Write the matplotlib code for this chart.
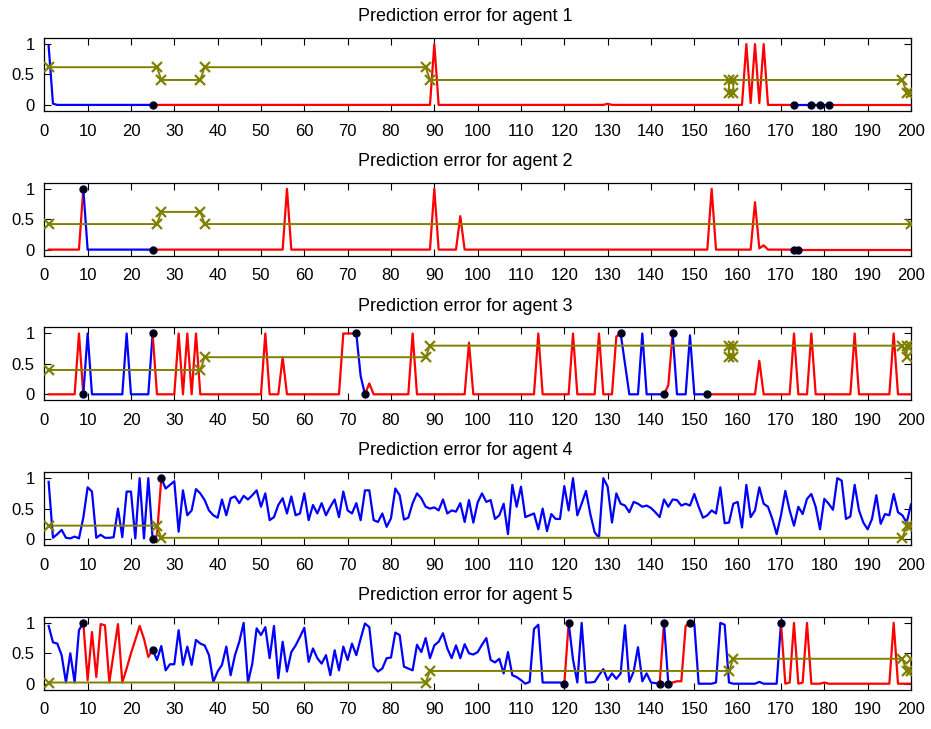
import matplotlib
matplotlib.use("Agg")
from matplotlib import pyplot as plt

plt.rcParams['font.family'] = ['Liberation Sans', 'DejaVu Sans']

t = list(range(1, 201))

# prediction error per agent, t = 1..200
err1 = [0.97, 0.02, 0, 0, 0, 0, 0, 0, 0, 0, 0, 0, 0, 0, 0, 0, 0, 0, 0, 0,
        0, 0, 0, 0, 0, 0, 0, 0, 0, 0, 0, 0, 0, 0, 0, 0, 0, 0, 0, 0,
        0, 0, 0, 0, 0, 0, 0, 0, 0, 0, 0, 0, 0, 0, 0, 0, 0, 0, 0, 0,
        0, 0, 0, 0, 0, 0, 0, 0, 0, 0, 0, 0, 0, 0, 0, 0, 0, 0, 0, 0,
        0, 0, 0, 0, 0, 0, 0, 0, 0, 1, 0, 0, 0, 0, 0, 0, 0, 0, 0, 0,
        0, 0, 0, 0, 0, 0, 0, 0, 0, 0, 0, 0, 0, 0, 0, 0, 0, 0, 0, 0,
        0, 0, 0, 0, 0, 0, 0, 0, 0, 0.02, 0, 0, 0, 0, 0, 0, 0, 0, 0, 0,
        0, 0, 0, 0, 0, 0, 0, 0, 0, 0, 0, 0, 0, 0, 0, 0, 0, 0, 0, 0,
        0, 1, 0.03, 1, 0.03, 1, 0, 0, 0, 0, 0, 0, 0, 0, 0, 0, 0, 0, 0, 0,
        0, 0, 0, 0, 0, 0, 0, 0, 0, 0, 0, 0, 0, 0, 0, 0, 0, 0, 0, 0]

err2 = [0, 0, 0, 0, 0, 0, 0, 0, 1, 0, 0, 0, 0, 0, 0, 0, 0, 0, 0, 0,
        0, 0, 0, 0, 0, 0, 0, 0, 0, 0, 0, 0, 0, 0, 0, 0, 0, 0, 0, 0,
        0, 0, 0, 0, 0, 0, 0, 0, 0, 0, 0, 0, 0, 0, 0, 1, 0, 0, 0, 0,
        0, 0, 0, 0, 0, 0, 0, 0, 0, 0, 0, 0, 0, 0, 0, 0, 0, 0, 0, 0,
        0, 0, 0, 0, 0, 0, 0, 0, 0, 1, 0, 0, 0, 0, 0, 0.55, 0, 0, 0, 0,
        0, 0, 0, 0, 0, 0, 0, 0, 0, 0, 0, 0, 0, 0, 0, 0, 0, 0, 0, 0,
        0, 0, 0, 0, 0, 0, 0, 0, 0, 0, 0, 0, 0, 0, 0, 0, 0, 0, 0, 0,
        0, 0, 0, 0, 0, 0, 0, 0, 0, 0, 0, 0, 0, 1, 0, 0, 0, 0, 0, 0,
        0, 0, 0, 0.78, 0.02, 0.07, 0, 0, 0, 0, 0, 0, 0, 0, 0, 0, 0, 0, 0, 0,
        0, 0, 0, 0, 0, 0, 0, 0, 0, 0, 0, 0, 0, 0, 0, 0, 0, 0, 0, 0]

err3 = [0, 0, 0, 0, 0, 0, 0, 1, 0, 1, 0, 0, 0, 0, 0, 0, 0, 0, 1, 0,
        0, 0, 0, 0, 1, 0, 0, 0, 0, 0, 1, 0, 1, 0, 1, 0, 0, 0, 0, 0,
        0, 0, 0, 0, 0, 0, 0, 0, 0, 0, 1, 0, 0, 0, 0.61, 0, 0, 0, 0, 0,
        0, 0, 0, 0, 0, 0, 0, 0, 1, 1, 1, 1, 0.3, 0, 0.18, 0, 0, 0, 0, 0,
        0, 0, 0, 0, 1, 0, 0, 0, 0, 0, 0, 0, 0, 0, 0, 0, 0, 0.85, 0, 0,
        0, 0, 0, 0, 0, 0, 0, 0, 0, 0, 0, 0, 0, 1, 0, 0, 0, 0, 0, 0,
        0, 1, 0, 0, 0, 0, 0, 1, 0, 0, 0, 0.95, 1, 0.5, 0, 0, 0, 1, 0, 0,
        0, 0, 0, 0.15, 1, 0, 0, 0, 0.97, 0, 0, 0, 0, 0, 0, 0, 0, 0, 0, 0,
        0, 0, 0, 0, 0.55, 0, 0, 0, 0, 0, 0, 0, 1, 0, 0, 0, 1, 0, 0, 0,
        0, 0, 0, 0, 0, 0, 1, 0, 0, 0, 0, 0, 0, 0, 0, 1, 0, 0, 0, 0]

err4 = [0.94, 0.02, 0.08, 0.15, 0.02, 0.01, 0.04, 0.01, 0.35, 0.85,
        0.78, 0.02, 0.07, 0.02, 0.02, 0.03, 0.5, 0.03, 0.78, 0.78,
        0.01, 1.0, 0.01, 1.0, 0.0, 0.06, 1.0, 0.83, 0.89, 0.95,
        0.12, 0.8, 0.39, 0.47, 0.82, 0.75, 0.64, 0.47, 0.39, 0.35,
        0.65, 0.39, 0.67, 0.7, 0.59, 0.71, 0.65, 0.72, 0.8, 0.53,
        0.75, 0.31, 0.36, 0.56, 0.67, 0.42, 0.7, 0.39, 0.42, 0.75,
        0.31, 0.56, 0.42, 0.59, 0.39, 0.53, 0.65, 0.36, 0.78, 0.47,
        0.42, 0.59, 0.31, 0.8, 0.8, 0.31, 0.28, 0.42, 0.2, 0.34,
        0.83, 0.72, 0.32, 0.35, 0.59, 0.75, 0.67, 0.53, 0.5, 0.52,
        0.47, 0.65, 0.42, 0.47, 0.45, 0.59, 0.28, 0.64, 0.27, 0.6,
        0.75, 0.61, 0.64, 0.33, 0.39, 0.58, 0.08, 0.89, 0.53, 0.86,
        0.36, 0.39, 0.42, 0.16, 0.5, 0.13, 0.41, 0.33, 0.33, 0.87,
        0.47, 1.0, 0.39, 0.58, 0.79, 0.41, 0.11, 0.02, 1.0, 0.86,
        0.27, 0.75, 0.58, 0.55, 0.44, 0.61, 0.58, 0.53, 0.55, 0.51,
        0.44, 0.36, 0.65, 0.53, 0.65, 0.64, 0.55, 0.58, 0.55, 0.74,
        0.53, 0.35, 0.39, 0.47, 0.42, 0.85, 0.26, 0.27, 0.58, 0.61,
        0.19, 0.89, 0.36, 0.47, 0.85, 0.58, 0.53, 0.33, 0.08, 0.39,
        0.79, 0.47, 0.22, 0.53, 0.41, 0.66, 0.74, 0.53, 0.16, 0.66,
        0.58, 0.48, 1.0, 0.96, 0.33, 0.37, 0.89, 0.47, 0.27, 0.16,
        0.33, 0.72, 0.25, 0.41, 0.39, 0.74, 0.44, 0.39, 0.27, 0.57]

err5 = [0.95, 0.68, 0.66, 0.47, 0.02, 0.5, 0.02, 0.88, 1.0, 0.06,
        0.85, 0.11, 0.98, 0.96, 0.02, 0.5, 0.98, 0.02, 0.25, 0.5,
        0.72, 0.95, 0.74, 0.44, 0.56, 0.39, 0.62, 0.22, 0.32, 0.32,
        0.88, 0.31, 0.61, 0.31, 0.72, 0.66, 0.63, 0.47, 0.03, 0.2,
        0.31, 0.61, 0.14, 0.47, 0.69, 1.0, 0.02, 0.33, 0.91, 0.8,
        0.93, 0.42, 0.95, 0.09, 0.69, 0.2, 0.52, 0.63, 0.77, 0.92,
        0.36, 0.58, 0.42, 0.33, 0.47, 0.14, 0.55, 0.22, 0.61, 0.39,
        0.66, 0.47, 0.74, 0.99, 0.93, 0.28, 0.2, 0.25, 0.42, 0.43,
        0.84, 0.8, 0.28, 0.25, 0.22, 0.64, 0.52, 0.75, 0.42, 0.63,
        0.69, 0.83, 0.58, 0.42, 0.63, 0.42, 0.65, 0.5, 0.48, 0.52,
        0.64, 0.75, 0.39, 0.35, 0.41, 0.17, 0.52, 0.14, 0.11, 0.06,
        0.0, 0.03, 0.9, 0.97, 0.02, 0.02, 0.02, 0.02, 0.02, 0.0,
        1.0, 0.4, 0.02, 1.0, 0.02, 0.02, 0.03, 0.14, 0.24, 0.06,
        0.17, 0.08, 0.17, 0.96, 0.03, 0.2, 0.6, 0.04, 0.17, 0.02,
        0.01, 0.0, 1.0, 0.0, 0.02, 0.04, 0.04, 0.95, 1.0, 0.98,
        0.0, 0.0, 0.0, 0.0, 0.02, 1.0, 0.97, 0.02, 0.0, 0.0,
        0.0, 0.0, 0.0, 0.0, 0.03, 0.0, 0.0, 0.0, 0.0, 1.0,
        0.0, 0.02, 1.0, 0.0, 0.02, 1.0, 0.0, 0.0, 0.0, 0.02,
        0.0, 0.0, 0.0, 0.0, 0.0, 0.0, 0.0, 0.0, 0.0, 0.0,
        0.0, 0.0, 0.0, 0.0, 0.0, 1.0, 0.0, 0.0, 0.0, 0.0]

# colour runs (first t, last t, colour) and the switch points marked with dots
runs1 = [(1, 25, 'b'), (25, 173, 'r'), (173, 181, 'b'), (181, 200, 'r')]
runs2 = [(1, 9, 'r'), (9, 25, 'b'), (25, 173, 'r'), (173, 174, 'b'), (174, 200, 'r')]
runs3 = [(1, 9, 'r'), (9, 25, 'b'), (25, 72, 'r'), (72, 74, 'b'), (74, 133, 'r'),
         (133, 143, 'b'), (143, 145, 'r'), (145, 153, 'b'), (153, 200, 'r')]
runs4 = [(1, 25, 'b'), (25, 27, 'r'), (27, 200, 'b')]
runs5 = [(1, 9, 'b'), (9, 25, 'r'), (25, 120, 'b'), (120, 121, 'r'), (121, 142, 'b'),
         (142, 143, 'r'), (143, 144, 'b'), (144, 149, 'r'), (149, 170, 'b'), (170, 200, 'r')]

dots1 = [25, 173, 177, 179, 181]
dots2 = [9, 25, 173, 174]
dots3 = [9, 25, 72, 74, 133, 143, 145, 153]
dots4 = [25, 27]
dots5 = [9, 25, 120, 121, 142, 143, 144, 149, 170]

# olive step line (only the change points are stored)
ox1 = [1, 26, 27, 36, 37, 88, 89, 158, 158, 159, 159, 198, 199, 200]
oy1 = [0.62, 0.62, 0.41, 0.41, 0.62, 0.62, 0.41, 0.41, 0.2, 0.2, 0.41, 0.41, 0.2, 0.2]
ox2 = [1, 26, 27, 36, 37, 200]
oy2 = [0.42, 0.42, 0.62, 0.62, 0.42, 0.42]
ox3 = [1, 36, 37, 88, 89, 158, 158, 159, 159, 198, 199, 199, 200]
oy3 = [0.4, 0.4, 0.61, 0.61, 0.8, 0.8, 0.61, 0.61, 0.8, 0.8, 0.61, 0.8, 0.8]
ox4 = [1, 26, 27, 198, 199, 200]
oy4 = [0.22, 0.22, 0.02, 0.02, 0.22, 0.22]
ox5 = [1, 88, 89, 158, 159, 198, 199, 200, 200]
oy5 = [0.02, 0.02, 0.21, 0.21, 0.41, 0.41, 0.21, 0.21, 0.41]

panels = [(err1, runs1, dots1, ox1, oy1), (err2, runs2, dots2, ox2, oy2),
          (err3, runs3, dots3, ox3, oy3), (err4, runs4, dots4, ox4, oy4),
          (err5, runs5, dots5, ox5, oy5)]

colours = {'r': '#ff0000', 'b': '#0000ff'}

fig = plt.figure(figsize=(9.31, 7.29), dpi=100)
W, H = 931.0, 729.0

for i, (err, runs, dots, ox, oy) in enumerate(panels):
    top = 38 + 144.7 * i
    ax = fig.add_axes([44.3 / W, 1 - (top + 73) / H, 866.7 / W, 73 / H])

    for a, b, c in runs:
        ax.plot(t[a - 1:b], err[a - 1:b], color=colours[c], lw=1.6, zorder=2)
    ax.plot(ox, oy, color='#808000', lw=1.4, marker='x', ms=6.5, mew=1.6, zorder=3)
    ax.plot([t[d - 1] for d in dots], [err[d - 1] for d in dots], 'o',
            color='#000000', mec='#00003a', ms=5, zorder=4, clip_on=False)

    ax.set_xlim(0, 200)
    ax.set_ylim(-0.1, 1.1)
    ax.set_xticks(range(0, 201, 10))
    ax.set_yticks([0, 0.5, 1])
    ax.set_yticklabels(['0', '0.5', '1'])
    ax.tick_params(direction='in', top=True, right=True, length=5, width=0.8,
                   labelsize=12, pad=7)
    ax.tick_params(axis='x', pad=9)
    for s in ax.spines.values():
        s.set_linewidth(0.9)
    ax.set_title("Prediction error for agent %d" % (i + 1), fontsize=13, x=0.486, pad=12)

fig.savefig('out.png', dpi=100)
